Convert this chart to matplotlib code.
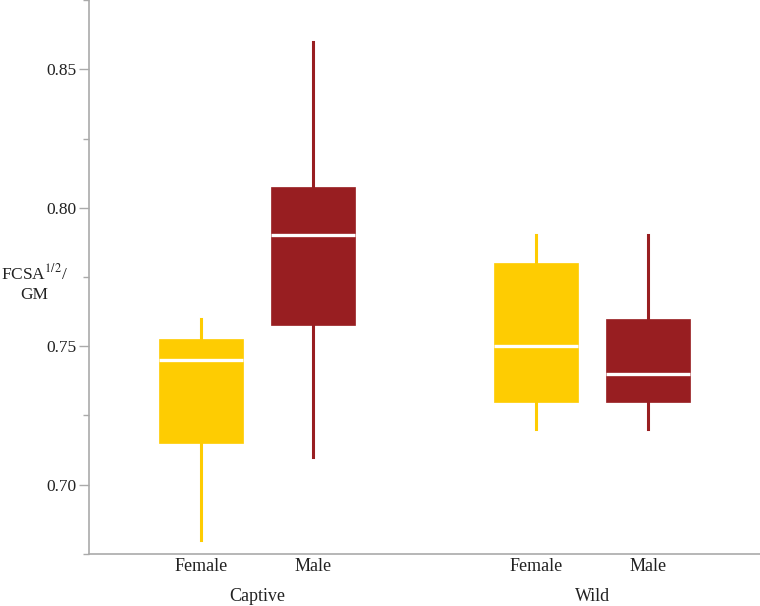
import matplotlib
matplotlib.use("Agg")
import matplotlib.pyplot as plt
from matplotlib.ticker import MultipleLocator

plt.rcParams['font.family'] = ['Liberation Serif', 'DejaVu Serif']
plt.rcParams['mathtext.fontset'] = 'stix'

# Box statistics
groups = ["Captive", "Wild"]
sexes = ["Female", "Male", "Female", "Male"]
whislo = [0.680, 0.710, 0.720, 0.720]
q1 = [0.715, 0.7575, 0.730, 0.730]
med = [0.745, 0.790, 0.750, 0.740]
q3 = [0.7525, 0.8075, 0.780, 0.760]
whishi = [0.760, 0.860, 0.790, 0.790]

yellow = "#FECC02"
red = "#981E21"
colors = [yellow, red, yellow, red]
positions = [0, 1, 3, 4]

fig = plt.figure(figsize=(7.6, 6.06), dpi=100)
ax = fig.add_axes([89 / 760, 52 / 606, 1 - 89 / 760, 1 - 52 / 606])

stats = []
for i in range(len(sexes)):
    stats.append({"med": med[i], "q1": q1[i], "q3": q3[i],
                  "whislo": whislo[i], "whishi": whishi[i], "label": sexes[i]})

bp = ax.bxp(stats, positions=positions, widths=0.75, patch_artist=True,
            showcaps=False, showfliers=False,
            medianprops=dict(color="white", linewidth=2.4))
for i, box in enumerate(bp["boxes"]):
    box.set_facecolor(colors[i])
    box.set_edgecolor(colors[i])
    box.set_linewidth(0.5)
for i, w in enumerate(bp["whiskers"]):
    w.set_color(colors[i // 2])
    w.set_linewidth(2.2)
    w.set_zorder(1)

ax.set_xlim(-1, 5)
ax.set_ylim(0.675, 0.875)
ax.yaxis.set_minor_locator(MultipleLocator(0.025))
ax.set_yticks([0.70, 0.75, 0.80, 0.85])
ax.set_yticklabels(["0.70", "0.75", "0.80", "0.85"])
ax.set_xticks(positions)
ax.set_xticklabels(sexes)

for s in ["top", "right"]:
    ax.spines[s].set_visible(False)
for s in ["left", "bottom"]:
    ax.spines[s].set_color("#AAAAAA")
    ax.spines[s].set_linewidth(1.2)

ax.tick_params(axis="y", which="major", length=7, width=1, color="#AAAAAA",
               labelsize=12.5, pad=2, labelcolor="#222222")
ax.tick_params(axis="y", which="minor", length=4, width=1, color="#AAAAAA")
ax.tick_params(axis="x", length=0, labelsize=13, pad=3, labelcolor="#222222")

for gx, name in zip([0.5, 3.5], groups):
    ax.text(gx, -0.0776, name, transform=ax.get_xaxis_transform(),
            ha="center", va="center", fontsize=13, color="#222222")

fig.text(34 / 760, 1 - 283 / 606, "FCSA$^{1/2}$/\nGM", ha="center", va="center",
         fontsize=12.5, color="#222222", linespacing=1.3)

fig.savefig("out.png", dpi=100)
